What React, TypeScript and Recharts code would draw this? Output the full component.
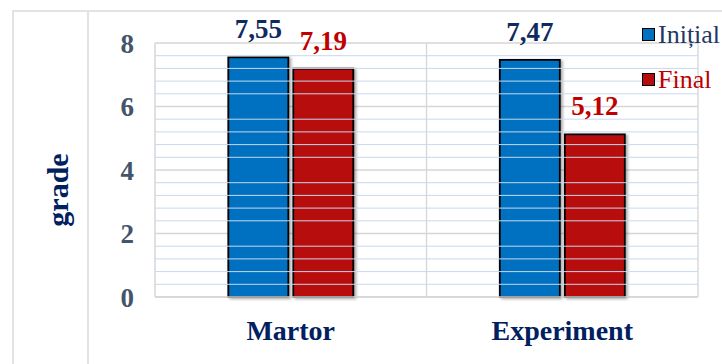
import { BarChart, Bar, XAxis, YAxis, CartesianGrid, Legend, LabelList, Label, ReferenceLine } from 'recharts';

const groups = ['Martor', 'Experiment'];
const initialGrades = [7.55, 7.47];
const finalGrades = [7.19, 5.12];
const yTicks = [0, 2, 4, 6, 8];
const minorLines = [0.4, 0.8, 1.2, 1.6, 2.4, 2.8, 3.2, 3.6, 4.4, 4.8, 5.2, 5.6, 6.4, 6.8, 7.2, 7.6];
const seriesOrder = ['initial', 'final'];

const data = groups.map((name, i) => ({ name, initial: initialGrades[i], final: finalGrades[i] }));

const serif = '"Liberation Serif", "Times New Roman", serif';
const BLUE = '#0070c0';
const RED = '#b80c0c';
const NAVY = '#0e2a5e';
const legendText: any = { initial: '#1f3864', final: '#c00000' };

const fmt = (v: any) => Number(v).toFixed(2).replace('.', ',');

function renderLegend(props: any) {
  const payload = [...(props.payload || [])].sort(
    (a: any, b: any) => seriesOrder.indexOf(a.dataKey) - seriesOrder.indexOf(b.dataKey)
  );
  return (
    <div style={{ fontFamily: serif }}>
      {payload.map((entry: any, index: number) => (
        <div key={`item-${index}`} style={{ display: 'flex', alignItems: 'center', height: 45 }}>
          <span
            style={{
              width: 11,
              height: 11,
              background: entry.color,
              border: '1.5px solid #000',
              marginRight: 3,
              flexShrink: 0,
            }}
          ></span>
          <span style={{ color: legendText[entry.dataKey], fontSize: 26, lineHeight: '28px', whiteSpace: 'nowrap' }}>
            {entry.value}
          </span>
        </div>
      ))}
    </div>
  );
}

function renderYLabel(props: any) {
  const { viewBox } = props;
  const cx = viewBox.x + 45;
  const cy = viewBox.y + viewBox.height / 2 + 20;
  return (
    <text
      x={cx}
      y={cy}
      transform={`rotate(-90 ${cx} ${cy})`}
      textAnchor="middle"
      dominantBaseline="central"
      fill="#002060"
      fontFamily={serif}
      fontWeight="bold"
      fontSize={30}
    >
      grade
    </text>
  );
}

export default function App() {
  return (
    <div style={{ position: 'absolute', left: 0, top: 0, width: 722, height: 364, background: '#fff', overflow: 'hidden' }}>
      {/* frame of the table cell */}
      <div style={{ position: 'absolute', left: 12, top: 10, width: 720, height: 360, borderTop: '2px solid #e3e3e3', borderLeft: '2px solid #e3e3e3' }} />
      <div style={{ position: 'absolute', left: 87, top: 10, width: 2, height: 360, background: '#e3e3e3' }} />
      <div style={{ position: 'absolute', left: 0, top: 0 }}>
        <BarChart
          width={722}
          height={364}
          data={data}
          margin={{ top: 43, right: 24, bottom: 37, left: 12 }}
          barCategoryGap="27%"
          barGap={5}
        >
          <defs>
            <filter id="barShadow" x="-20%" y="-20%" width="140%" height="140%">
              <feDropShadow dx="2" dy="1" stdDeviation="1.5" floodColor="#000" floodOpacity="0.35" />
            </filter>
          </defs>
          {minorLines.map((v) => (
            <ReferenceLine key={v} y={v} stroke="#c6d9ef" strokeWidth={1} />
          ))}
          <CartesianGrid
            verticalCoordinatesGenerator={({ offset }: any) => [offset.left + offset.width / 2, offset.left + offset.width]}
            stroke="#d6d6d6"
            strokeWidth={1.3}
          />
          <XAxis
            dataKey="name"
            height={30}
            axisLine={{ stroke: '#d6d6d6', strokeWidth: 1.5 }}
            tickLine={false}
            tickSize={0}
            tickMargin={23}
            tick={{ fill: '#002060', fontFamily: serif, fontWeight: 'bold', fontSize: 28 }}
          />
          <YAxis
            width={143}
            domain={[0, 8]}
            ticks={yTicks}
            axisLine={{ stroke: '#d6d6d6', strokeWidth: 1.5 }}
            tickLine={false}
            tickSize={0}
            tickMargin={21}
            tick={{ fill: '#44546a', fontFamily: serif, fontWeight: 'bold', fontSize: 27 }}
          >
            <Label content={renderYLabel} />
          </YAxis>
          <Legend
            layout="horizontal"
            verticalAlign="middle"
            align="center"
            content={renderLegend}
            wrapperStyle={{ left: 642, top: 12, width: 90, height: 90 }}
          />
          <Bar
            dataKey="initial"
            name="Inițial"
            fill={BLUE}
            stroke="#000"
            strokeWidth={1.8}
            filter="url(#barShadow)"
            isAnimationActive={false}
          >
            <LabelList
              dataKey="initial"
              position="top"
              offset={19}
              formatter={fmt}
              fill={NAVY}
              fontFamily={serif}
              fontWeight="bold"
              fontSize={27}
            />
          </Bar>
          <Bar
            dataKey="final"
            name="Final"
            fill={RED}
            stroke="#000"
            strokeWidth={1.8}
            filter="url(#barShadow)"
            isAnimationActive={false}
          >
            <LabelList
              dataKey="final"
              position="top"
              offset={19}
              formatter={fmt}
              fill="#c00000"
              fontFamily={serif}
              fontWeight="bold"
              fontSize={27}
            />
          </Bar>
        </BarChart>
      </div>
    </div>
  );
}
